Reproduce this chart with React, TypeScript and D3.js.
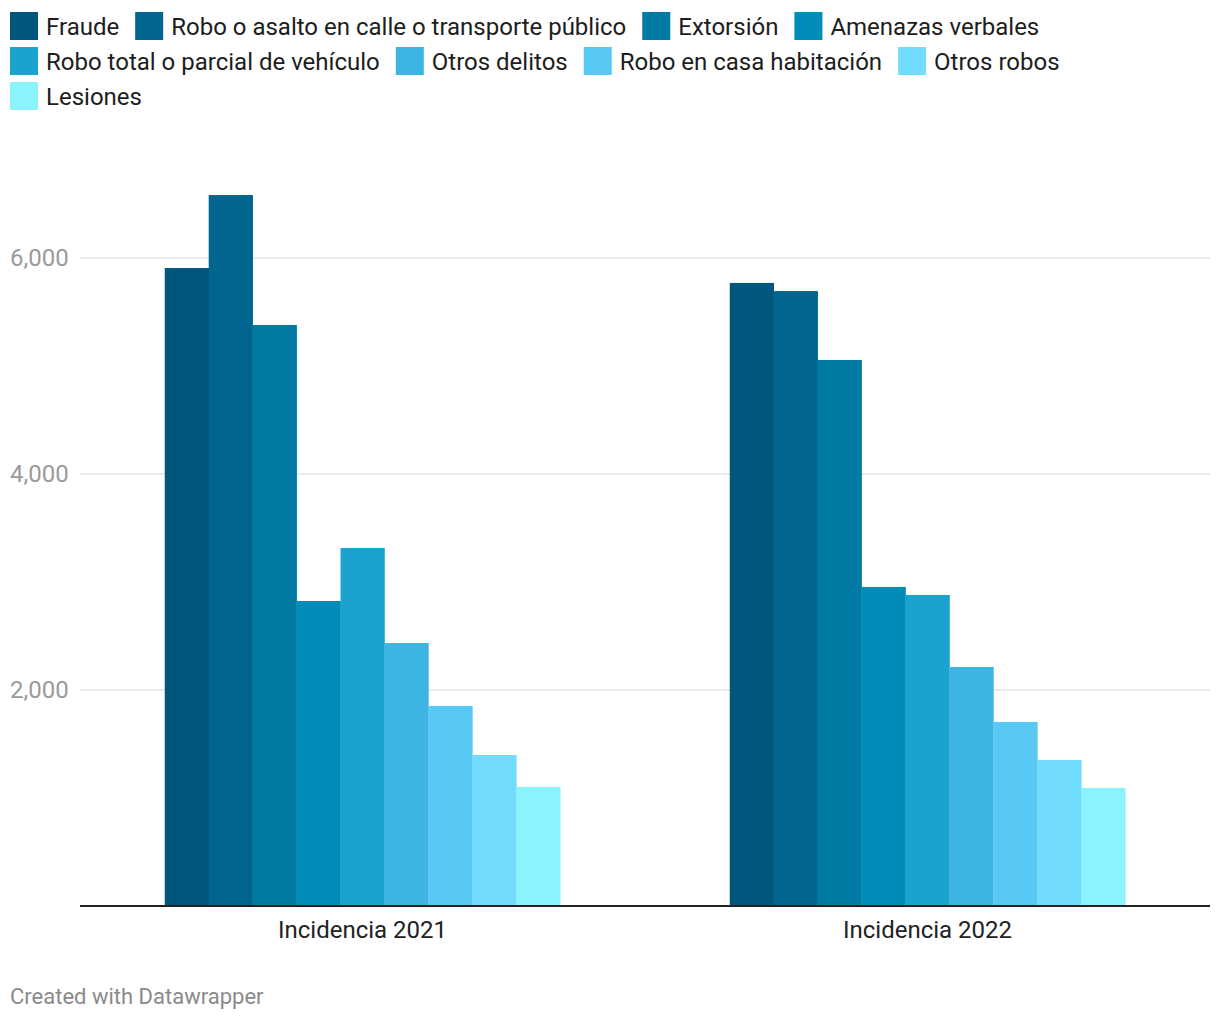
import React from "react";
import * as d3 from "d3";

const groups = ["Incidencia 2021", "Incidencia 2022"];
const seriesNames = [
  "Fraude",
  "Robo o asalto en calle o transporte público",
  "Extorsión",
  "Amenazas verbales",
  "Robo total o parcial de vehículo",
  "Otros delitos",
  "Robo en casa habitación",
  "Otros robos",
  "Lesiones",
];
const values2021 = [5907, 6583, 5380, 2824, 3315, 2435, 1852, 1398, 1102];
const values2022 = [5769, 5694, 5056, 2954, 2880, 2213, 1704, 1352, 1093];
const colors = [
  "#01567b",
  "#006690",
  "#0079a3",
  "#008cb9",
  "#1aa3cf",
  "#3db5e2",
  "#58c8f5",
  "#72dcfe",
  "#8bf3fe",
];
const yTicks = [2000, 4000, 6000];

// legend layout rows (indices)
const legendRows = [[0, 1, 2, 3], [4, 5, 6, 7], [8]];

const W = 1220;
const H = 1020;
const FONT = "Roboto, 'Noto Sans', sans-serif";
const LEGEND_FS = 24;

export default function App() {
  const x0 = d3.scaleBand<string>().domain(groups).range([80, 1210]).paddingInner(0.3).paddingOuter(0.15);
  const x1 = d3.scaleBand<string>().domain(seriesNames).range([0, x0.bandwidth()]);
  const y = d3.scaleLinear().domain([0, 6600]).range([906, 193.2]);
  const dataByGroup = [values2021, values2022];

  const canvas = typeof document !== "undefined" ? document.createElement("canvas") : null;
  const ctx = canvas ? canvas.getContext("2d") : null;
  if (ctx) ctx.font = `${LEGEND_FS}px Roboto`;
  const measure = (t: string) => (ctx ? ctx.measureText(t).width : t.length * 11);

  const legendItems: { i: number; x: number; y: number }[] = [];
  legendRows.forEach((row, r) => {
    let cx = 10;
    row.forEach((i) => {
      legendItems.push({ i, x: cx, y: 12 + r * 35 });
      cx += 36 + measure(seriesNames[i]) + 16;
    });
  });

  return (
    <svg width={W} height={H} style={{ display: "block", position: "absolute", left: 0, top: 0, background: "#fff" }} fontFamily={FONT}>
      {legendItems.map(({ i, x, y: ly }) => (
        <g key={i}>
          <rect x={x} y={ly} width={28} height={28} fill={colors[i]} />
          <text x={x + 36} y={ly + 22.5} fontSize={LEGEND_FS} fill="#1d1d1d">
            {seriesNames[i]}
          </text>
        </g>
      ))}
      {yTicks.map((t) => (
        <g key={t}>
          <line x1={80} x2={1210} y1={y(t)} y2={y(t)} stroke="#e3e3e3" strokeWidth={1.5} />
          <text x={10} y={y(t) + 8} fontSize={24} fill="#9a9a9a">
            {d3.format(",")(t)}
          </text>
        </g>
      ))}
      {groups.map((g, gi) => (
        <g key={g} transform={`translate(${x0(g)},0)`}>
          {seriesNames.map((s, si) => (
            <rect
              key={s}
              x={x1(s)}
              y={y(dataByGroup[gi][si])}
              width={x1.bandwidth() + 0.3}
              height={y(0) - y(dataByGroup[gi][si])}
              fill={colors[si]}
            />
          ))}
        </g>
      ))}
      <line x1={80} x2={1210} y1={y(0)} y2={y(0)} stroke="#222" strokeWidth={2} />
      {groups.map((g) => (
        <text key={g} x={(x0(g) as number) + x0.bandwidth() / 2} y={938} fontSize={24} fill="#222" textAnchor="middle">
          {g}
        </text>
      ))}
      <text x={10} y={1004} fontSize={22} fill="#8a8a8a">
        Created with Datawrapper
      </text>
    </svg>
  );
}
